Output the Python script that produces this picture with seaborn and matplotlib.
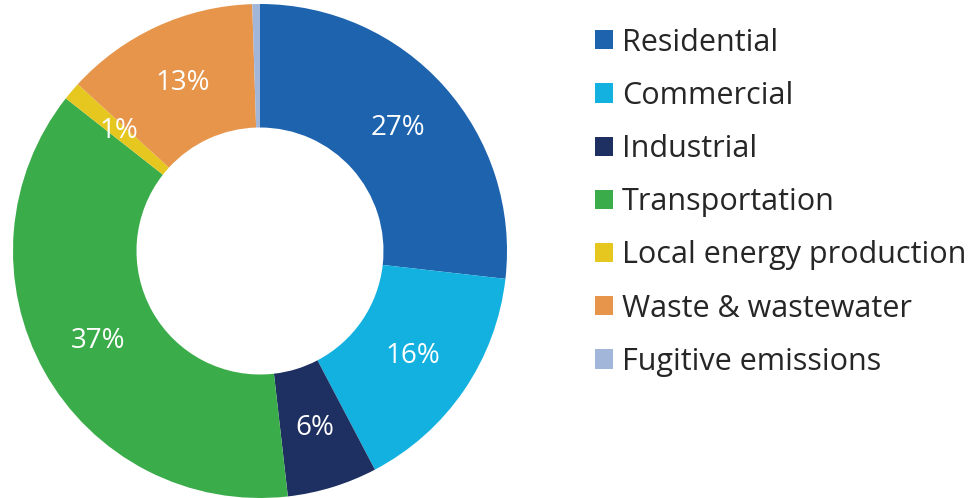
import seaborn as sns
import numpy as np
from matplotlib import pyplot as plt
from matplotlib.patches import Patch

categories = ['Residential', 'Commercial', 'Industrial', 'Transportation',
              'Local energy production', 'Waste & wastewater', 'Fugitive emissions']
shares = [26.8, 15.5, 5.9, 37.4, 1.2, 12.7, 0.5]
pct_labels = ['27%', '16%', '6%', '37%', '1%', '13%', '']
colors = ['#1d63ae', '#12b1e0', '#1e2f61', '#3bac4a', '#e5c71f', '#e6954b', '#a2b6da']

sns.set_theme(style="white")
plt.rcParams['font.family'] = ['Open Sans', 'DejaVu Sans']

fig = plt.figure(figsize=(9.79, 4.98), dpi=100)
ax = fig.add_axes([13/979, 0.0, 494/979, 494/498])

wedges, _ = ax.pie(shares, colors=colors, startangle=90, counterclock=False,
                   radius=1.0, wedgeprops=dict(width=0.5, linewidth=0))

# percent labels in the middle of the ring
cum = np.cumsum([0] + shares[:-1])
total = sum(shares)
for start, val, lab in zip(cum, shares, pct_labels):
    if not lab:
        continue
    ang = np.deg2rad(90 - (start + val / 2) / total * 360)
    r = 0.75
    ax.text(r * np.cos(ang), r * np.sin(ang), lab, color='white',
            fontsize=20, ha='center', va='center')

ax.set_xlim(-1, 1)
ax.set_ylim(-1, 1)
ax.set_aspect('equal')
ax.axis('off')

handles = [Patch(facecolor=c, edgecolor='none') for c in colors]
fig.legend(handles, categories, loc='center left', bbox_to_anchor=(595/979, 0.594),
           frameon=False, fontsize=22, handlelength=0.59, handleheight=0.59,
           handletextpad=0.3, labelspacing=0.76, borderpad=0, borderaxespad=0)

plt.savefig('out.png', dpi=100)
